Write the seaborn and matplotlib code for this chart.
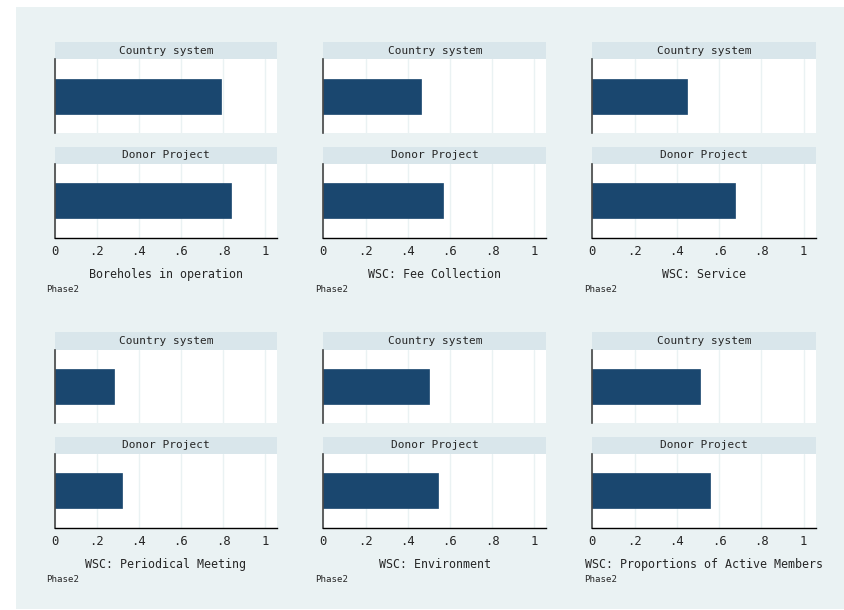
import matplotlib
matplotlib.use("Agg")
import matplotlib.pyplot as plt
import seaborn as sns
from matplotlib.patches import Rectangle

# Dades (proporcions, fase 2)
measures = ["Boreholes in operation", "WSC: Fee Collection", "WSC: Service",
            "WSC: Periodical Meeting", "WSC: Environment",
            "WSC: Proportions of Active Members"]
groups = ["Country system", "Donor Project"]
country_vals = [0.79, 0.461, 0.447, 0.283, 0.502, 0.51]
donor_vals = [0.839, 0.566, 0.676, 0.319, 0.541, 0.555]
tick_vals = [0, 0.2, 0.4, 0.6, 0.8, 1.0]
tick_labels = ["0", ".2", ".4", ".6", ".8", "1"]
note = "Phase2"

sns.set_style("white")
plt.rcParams['font.family'] = ['DejaVu Sans Mono', 'DejaVu Sans']

W, H = 845, 610
BG = "#EAF2F3"
STRIP = "#D9E6EB"
BAR = "#1A476F"

fig = plt.figure(figsize=(W / 100, H / 100), dpi=100)
fig.patch.set_facecolor("white")
fig.patches.append(Rectangle((16 / W, 1 / H), (W - 16) / W, 1 - 8 / H,
                             transform=fig.transFigure, facecolor=BG,
                             edgecolor="none", zorder=-10))


def px_axes(x0, y0, x1, y1, **kw):
    '''Crea uns eixos a partir de coordenades en píxels (origen a dalt)'''
    return fig.add_axes([x0 / W, 1 - y1 / H, (x1 - x0) / W, (y1 - y0) / H], **kw)


col_x = [(54.5, 277.3), (323.3, 546.5), (592.3, 815.7)]
row_y = [42.0, 332.0]
# offsets verticals dins de cada panell
strip_h = 17.5
plot_h = 73.5
gap = 13.5

for i, measure in enumerate(measures):
    r, c = divmod(i, 3)
    x0, x1 = col_x[c]
    top = row_y[r]
    vals = [country_vals[i], donor_vals[i]]
    for j, grp in enumerate(groups):
        s_top = top + j * (strip_h + plot_h + gap)
        p_top = s_top + strip_h
        p_bot = p_top + plot_h

        # capçalera del subpanell
        sax = px_axes(x0, s_top, x1, p_top)
        sax.set_facecolor(STRIP)
        sax.set_xticks([])
        sax.set_yticks([])
        for sp in sax.spines.values():
            sp.set_visible(False)
        sax.text(0.5, 0.5, grp, ha="center", va="center", fontsize=8,
                 transform=sax.transAxes)

        ax = px_axes(x0, p_top, x1, p_bot)
        ax.set_facecolor("white")
        sns.barplot(x=[vals[j]], y=[grp], orient="h", ax=ax, color=BAR,
                    width=0.48, saturation=1, edgecolor=BAR, linewidth=0.5)
        ax.set_xlim(0, 1.057)
        ax.set_ylim(0.5, -0.5)
        ax.set_xticks(tick_vals)
        ax.grid(axis="x", color=BG, linewidth=1)
        ax.set_axisbelow(True)
        ax.set_yticks([])
        ax.set_xlabel("")
        ax.set_ylabel("")
        for sp in ["top", "right"]:
            ax.spines[sp].set_visible(False)
        ax.spines["left"].set_color("#444444")
        ax.spines["left"].set_linewidth(1.2)
        if j == 0:
            ax.spines["bottom"].set_visible(False)
            ax.tick_params(axis="x", length=0, labelbottom=False)
        else:
            ax.spines["bottom"].set_color("black")
            ax.spines["bottom"].set_linewidth(1)
            ax.set_xticklabels(tick_labels)
            ax.tick_params(axis="x", length=4, width=1, color="black",
                           labelsize=8.8, pad=1.5)

    # títol i nota del panell
    base = top + 2 * (strip_h + plot_h) + gap
    fig.text((x0 + x1) / 2 / W, 1 - (base + 37) / H, measure,
             ha="center", va="center", fontsize=8.4)
    fig.text((x0 - 8.5) / W, 1 - (base + 52) / H, note,
             ha="left", va="center", fontsize=6.6)

fig.savefig("out.png", dpi=100, facecolor=fig.get_facecolor())
